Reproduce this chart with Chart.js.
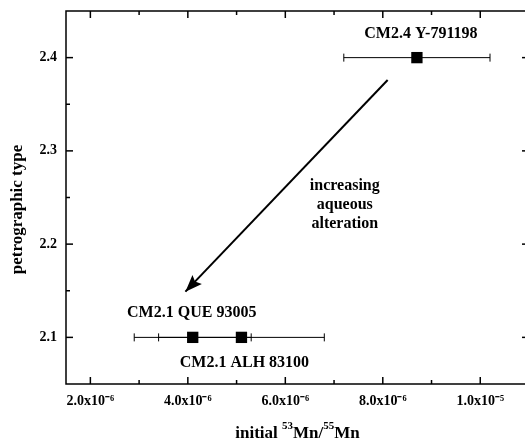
<!DOCTYPE html>
<html><head><meta charset="utf-8">
<script src="https://cdn.jsdelivr.net/npm/chart.js@4.4.0/dist/chart.umd.min.js"></script>
<style>html,body{margin:0;padding:0;background:#fff;overflow:hidden;width:525px;height:439px}#wrap{width:525px;height:439px;overflow:hidden;position:relative}#inner{width:532px;height:439px}canvas{display:block}</style>
</head><body>
<div id="wrap"><div id="inner"><canvas id="c" width="532" height="439"></canvas></div></div>
<script>
// ---- data ----
const samples = ['CM2.4 Y-791198', 'CM2.1 QUE 93005', 'CM2.1 ALH 83100'];
const mnRatio = [8.7e-6, 4.1e-6, 5.1e-6];
const mnError = [1.5e-6, 1.2e-6, 1.7e-6];
const petroType = [2.4, 2.1, 2.1];
const xTickValues = [2e-6, 4e-6, 6e-6, 8e-6, 1e-5];
const xTickLabels = ['2.0x10⁻⁶', '4.0x10⁻⁶', '6.0x10⁻⁶', '8.0x10⁻⁶', '1.0x10⁻⁵'];
const yTickValues = [2.1, 2.2, 2.3, 2.4];
const yTickLabels = ['2.1', '2.2', '2.3', '2.4'];
const arrowStart = [8.1e-6, 2.376];
const arrowEnd = [3.95e-6, 2.149];
const arrowText = ['increasing', 'aqueous', 'alteration'];
const yTitle = 'petrographic type';

// ---- layout / style ----
const FONT = "'Liberation Serif','Times New Roman',serif";
const labelOffsets = [-24, -25, 25];
const arrowTextAnchor = { x: 7.22e-6, y: 2.242 };

const decor = {
  id: 'decor',
  afterDatasetsDraw(chart) {
    const { ctx, chartArea: a, scales: { x, y } } = chart;
    ctx.save();
    ctx.strokeStyle = '#000';
    ctx.fillStyle = '#000';
    ctx.lineWidth = 1.5;
    ctx.strokeRect(a.left, a.top, a.right - a.left, a.bottom - a.top);
    const seg = (x1, y1, x2, y2) => { ctx.beginPath(); ctx.moveTo(x1, y1); ctx.lineTo(x2, y2); ctx.stroke(); };
    const xMinor = xTickValues.slice(1).map((v, i) => (v + xTickValues[i]) / 2);
    const yMinor = yTickValues.slice(1).map((v, i) => (v + yTickValues[i]) / 2);
    xTickValues.forEach(v => { const p = x.getPixelForValue(v); seg(p, a.bottom, p, a.bottom - 7); seg(p, a.top, p, a.top + 7); });
    xMinor.forEach(v => { const p = x.getPixelForValue(v); seg(p, a.bottom, p, a.bottom - 4); seg(p, a.top, p, a.top + 4); });
    yTickValues.forEach(v => { const p = y.getPixelForValue(v); seg(a.left, p, a.left + 7, p); seg(a.right, p, a.right - 7, p); });
    yMinor.forEach(v => { const p = y.getPixelForValue(v); seg(a.left, p, a.left + 4, p); seg(a.right, p, a.right - 4, p); });

    // arrow head
    const x1 = x.getPixelForValue(arrowStart[0]), y1 = y.getPixelForValue(arrowStart[1]);
    const x2 = x.getPixelForValue(arrowEnd[0]), y2 = y.getPixelForValue(arrowEnd[1]);
    const len = Math.hypot(x2 - x1, y2 - y1);
    const ux = (x2 - x1) / len, uy = (y2 - y1) / len;
    const nx = -uy, ny = ux;
    const L = 17, W = 6.5;
    const bx = x2 - ux * L, by = y2 - uy * L;
    ctx.beginPath();
    ctx.moveTo(x2, y2);
    ctx.lineTo(bx + nx * W, by + ny * W);
    ctx.lineTo(x2 - ux * L * 0.82, y2 - uy * L * 0.82);
    ctx.lineTo(bx - nx * W, by - ny * W);
    ctx.closePath();
    ctx.fill();

    // sample labels
    ctx.font = 'bold 16px ' + FONT;
    ctx.textAlign = 'center';
    ctx.textBaseline = 'middle';
    samples.forEach((s, i) => {
      ctx.fillText(s, x.getPixelForValue(mnRatio[i]) + (i === 0 ? 4 : i === 2 ? 3 : -1), y.getPixelForValue(petroType[i]) + labelOffsets[i]);
    });
    // arrow text
    const tx = x.getPixelForValue(arrowTextAnchor.x), ty = y.getPixelForValue(arrowTextAnchor.y);
    arrowText.forEach((t, i) => ctx.fillText(t, tx, ty + (i - 1) * 19));

    // y title
    ctx.save();
    ctx.translate(a.left - 48, (a.top + a.bottom) / 2 + 12);
    ctx.rotate(-Math.PI / 2);
    ctx.font = 'bold 17px ' + FONT;
    ctx.fillText(yTitle, 0, 0);
    ctx.restore();

    // x title with superscripts
    const parts = [['initial ', 17, 0], ['53', 11, -9], ['Mn/', 17, 0], ['55', 11, -9], ['Mn', 17, 0]];
    let total = 0;
    parts.forEach(p => { ctx.font = 'bold ' + p[1] + 'px ' + FONT; p.push(ctx.measureText(p[0]).width); total += p[3]; });
    let cx = (a.left + a.right) / 2 - total / 2;
    ctx.textAlign = 'left';
    ctx.textBaseline = 'alphabetic';
    parts.forEach(p => { ctx.font = 'bold ' + p[1] + 'px ' + FONT; ctx.fillText(p[0], cx, 438 + p[2]); cx += p[3]; });
    ctx.restore();
  }
};

const errorBars = mnRatio.map((v, i) => ({
  data: [{ x: v - mnError[i], y: petroType[i] }, { x: v + mnError[i], y: petroType[i] }],
  showLine: true, borderColor: '#000', borderWidth: 1,
  pointStyle: 'line', pointRotation: 90, pointRadius: 4,
  pointBorderColor: '#000', pointBorderWidth: 1, order: 1
}));

const arrowLine = {
  data: [{ x: arrowStart[0], y: arrowStart[1] }, { x: arrowEnd[0], y: arrowEnd[1] }],
  showLine: true, borderColor: '#000', borderWidth: 2, pointRadius: 0, order: 2
};

const points = {
  data: mnRatio.map((v, i) => ({ x: v, y: petroType[i] })),
  pointStyle: 'rect', pointRadius: 8, backgroundColor: '#000', borderWidth: 0, order: 0
};

new Chart(document.getElementById('c'), {
  type: 'scatter',
  data: { datasets: [points, ...errorBars, arrowLine] },
  options: {
    responsive: false, animation: false, devicePixelRatio: 1,
    layout: { autoPadding: false, padding: { top: 11, right: 3, left: 0, bottom: 0 } },
    plugins: { legend: { display: false }, tooltip: { enabled: false } },
    scales: {
      x: {
        type: 'linear', min: 1.5e-6, max: 1.1e-5,
        afterBuildTicks: s => { s.ticks = xTickValues.map(v => ({ value: v })); },
        afterFit: s => { s.height = 55; s.paddingLeft = 0; s.paddingRight = 0; },
        grid: { display: false, drawTicks: false }, border: { display: false },
        ticks: { padding: 9, color: '#000', maxRotation: 0, autoSkip: false,
          font: { family: FONT, size: 14, weight: 'bold' },
          callback: (v, i) => xTickLabels[i] }
      },
      y: {
        type: 'linear', min: 2.05, max: 2.45,
        afterBuildTicks: s => { s.ticks = yTickValues.map(v => ({ value: v })); },
        afterFit: s => { s.width = 66; s.paddingTop = 0; s.paddingBottom = 0; },
        grid: { display: false, drawTicks: false }, border: { display: false },
        ticks: { padding: 9, color: '#000', autoSkip: false,
          font: { family: FONT, size: 14, weight: 'bold' },
          callback: (v, i) => yTickLabels[i] }
      }
    }
  },
  plugins: [decor]
});
</script>
</body></html>
